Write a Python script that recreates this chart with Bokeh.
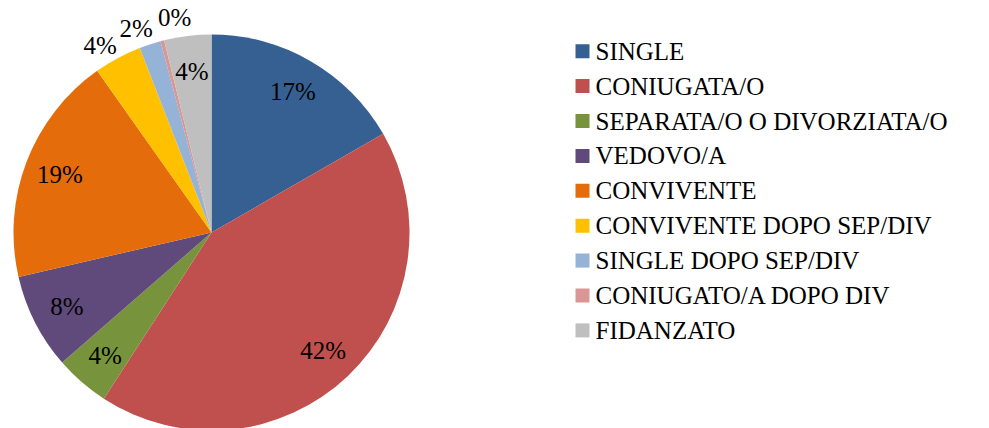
import math
import numpy as np
from bokeh.plotting import figure
from bokeh.models import Range1d, ColumnDataSource, Label
from bokeh.embed import file_html
from bokeh.resources import INLINE

categories = ["SINGLE", "CONIUGATA/O", "SEPARATA/O O DIVORZIATA/O", "VEDOVO/A",
              "CONVIVENTE", "CONVIVENTE DOPO SEP/DIV", "SINGLE DOPO SEP/DIV",
              "CONIUGATO/A DOPO DIV", "FIDANZATO"]
shares = [16.7, 42.45, 4.45, 7.8, 18.8, 3.9, 1.75, 0.3, 3.85]
colors = ["#376092", "#C0504D", "#77933C", "#604A7B", "#E46C0A",
          "#FFC000", "#95B3D7", "#D99694", "#BFBFBF"]
label_place = ["in", "in", "in", "in", "in", "out", "out", "out", "in"]

FONT = "Liberation Serif"
FS = "25px"
W, H = 989, 428
cx, cy, R = 211, 196, 198

p = figure(width=W, height=H, x_range=Range1d(0, W), y_range=Range1d(0, H),
           output_backend="svg", toolbar_location=None, min_border=0,
           x_axis_type=None, y_axis_type=None)
p.outline_line_alpha = 0

vals = np.array(shares, dtype=float)
frac = vals / vals.sum()
cum = np.cumsum(frac)
start = math.pi / 2 - 2 * math.pi * (cum - frac)
end = math.pi / 2 - 2 * math.pi * cum
mid = math.pi / 2 - 2 * math.pi * (cum - frac / 2)

src = ColumnDataSource(dict(start=start, end=end, color=colors))
p.wedge(x=cx, y=cy, radius=R, start_angle="start", end_angle="end",
        direction="clock", fill_color="color", line_color=None, source=src)

# label positions (outside labels spread apart so they do not overlap)
ang = {i: math.degrees(mid[i]) for i in range(len(vals))}
out_idx = sorted([i for i, pl in enumerate(label_place) if pl == "out"], key=lambda i: ang[i])
sep = 10.5
for _ in range(200):
    for a, b in zip(out_idx[:-1], out_idx[1:]):
        gap = ang[b] - ang[a]
        if gap < sep:
            d = (sep - gap) / 2
            ang[a] -= d
            ang[b] += d

for i in range(len(vals)):
    r = 0.82 * R if label_place[i] == "in" else 1.1 * R
    t = math.radians(ang[i])
    p.add_layout(Label(x=float(cx + r * math.cos(t)), y=float(cy + r * math.sin(t)),
                       text=f"{round(frac[i] * 100)}%", text_font=FONT, text_font_size=FS,
                       text_align="center", text_baseline="middle", text_color="black"))

# legend
n = len(categories)
leg_y = [H - 50.7 - 34.9 * i for i in range(n)]
p.rect(x=[582] * n, y=leg_y, width=14, height=14, fill_color=colors, line_color=None)
for i in range(n):
    p.add_layout(Label(x=595, y=leg_y[i], text=categories[i], text_font=FONT, text_font_size=FS,
                       text_align="left", text_baseline="middle", text_color="black"))

open("out.html", "w").write(file_html(p, INLINE))
